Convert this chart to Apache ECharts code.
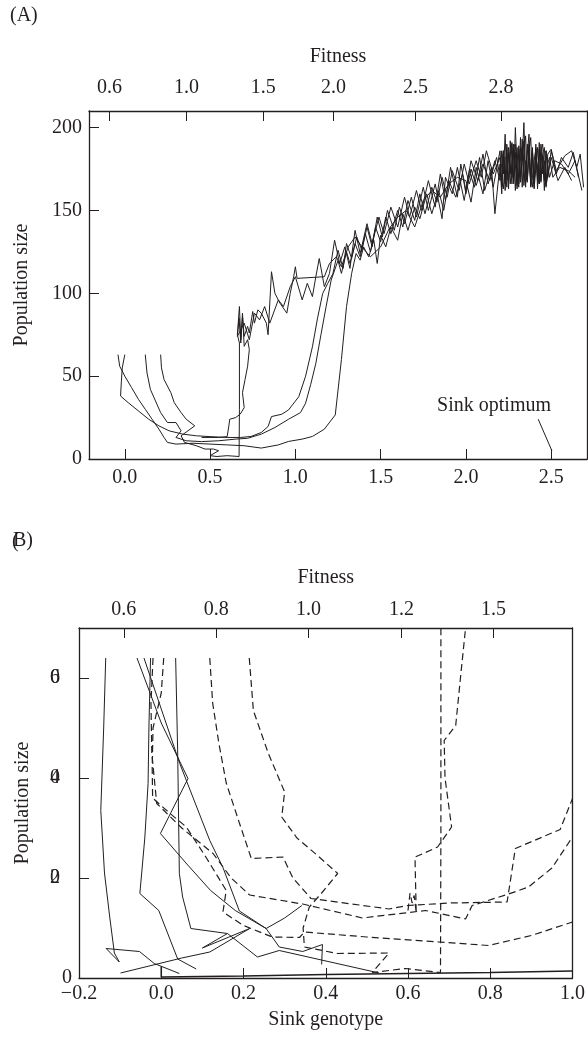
<!DOCTYPE html>
<html><head><meta charset="utf-8">
<script src="https://cdn.jsdelivr.net/npm/echarts@6/dist/echarts.min.js"></script>
<style>html,body{margin:0;padding:0;background:#fff}#c{width:588px;height:1042px}</style>
</head><body><div id="c"></div>
<script>
// ---------- Panel A data: [sink genotype, population size] ----------
const traceA1 = [[-0.04,63],[-0.03,56],[0.0,50],[0.04,43],[0.08,36],[0.12,30],[0.16,24],[0.2,18],[0.23,13],[0.25,10],[0.3,9],[0.4,9.5],[0.5,9],[0.6,8.5],[0.7,8],[0.8,6.6],[0.9,8.5],[0.96,10.6],[1.04,12],[1.1,13.6],[1.17,18],[1.234,26.6],[1.27,60],[1.3,92],[1.33,112],[1.356,124],[1.38,120],[1.4,128],[1.43,122],[1.46,132],[1.48,118],[1.5,135],[1.53,128],[1.56,140],[1.6,132],[1.63,148],[1.66,138],[1.7,152],[1.73,145],[1.77,160],[1.8,148],[1.84,162],[1.87,150],[1.9,168],[1.94,158],[1.98,172],[2.0,160],[2.03,175],[2.06,165],[2.1,178],[2.14,168],[2.18,182],[2.2,170],[2.22,186],[2.24,164],[2.25,188],[2.27,166],[2.28,190],[2.3,165],[2.31,189],[2.32,167],[2.34,192],[2.35,164],[2.36,190],[2.38,168],[2.39,186],[2.4,163],[2.42,188],[2.43,166],[2.44,184],[2.46,168],[2.47,186],[2.49,170],[2.52,180],[2.56,178],[2.6,172],[2.64,180],[2.68,162]];
const traceA2 = [[0.0,63],[-0.015,55],[-0.02,47],[-0.025,38],[0.02,34],[0.08,29],[0.14,24],[0.2,20],[0.26,17],[0.34,15],[0.42,14],[0.5,13.5],[0.6,13],[0.68,13],[0.74,13.6],[0.8,16],[0.84,19.6],[0.86,25.6],[0.92,27],[0.96,29.6],[1.02,37.6],[1.06,50],[1.1,67.7],[1.13,85],[1.16,99.8],[1.19,106],[1.22,111.8],[1.25,126],[1.28,115],[1.3,130],[1.33,121],[1.36,134],[1.39,126],[1.42,140],[1.45,128],[1.48,146],[1.51,134],[1.54,150],[1.58,138],[1.61,152],[1.64,142],[1.68,158],[1.71,146],[1.75,164],[1.78,150],[1.82,166],[1.86,145],[1.88,170],[1.92,160],[1.95,176],[1.99,156],[2.02,174],[2.05,164],[2.08,182],[2.11,162],[2.15,176],[2.17,148],[2.2,178],[2.21,160],[2.22,184],[2.23,166],[2.24,190],[2.25,163],[2.26,192],[2.27,170],[2.28,186],[2.29,162],[2.3,188],[2.31,166],[2.32,194],[2.33,164],[2.34,186],[2.35,195],[2.36,168],[2.37,190],[2.38,164],[2.39,188],[2.4,166],[2.41,190],[2.42,163],[2.43,187],[2.44,168],[2.45,183],[2.46,162],[2.47,186],[2.48,170],[2.5,186],[2.53,172],[2.56,182],[2.6,176],[2.63,185],[2.66,170]];
const traceA3 = [[0.12,63],[0.13,52],[0.15,42],[0.18,35],[0.21,28],[0.25,22],[0.3,22],[0.33,17],[0.3,13],[0.36,11],[0.45,10.5],[0.55,11],[0.65,12],[0.72,12.5],[0.8,15],[0.88,19],[0.96,24],[1.03,28],[1.06,33.7],[1.09,45],[1.12,57.7],[1.15,75],[1.18,91.8],[1.21,108],[1.25,119.8],[1.27,112],[1.3,125],[1.32,118],[1.35,130],[1.38,122],[1.41,136],[1.44,125],[1.47,140],[1.5,131],[1.53,146],[1.56,136],[1.6,150],[1.63,140],[1.66,156],[1.7,144],[1.73,160],[1.76,148],[1.8,164],[1.83,155],[1.86,170],[1.89,158],[1.92,174],[1.96,162],[1.99,178],[2.02,166],[2.06,180],[2.09,170],[2.12,186],[2.16,172],[2.2,182],[2.21,164],[2.22,186],[2.23,162],[2.24,188],[2.25,167],[2.26,184],[2.27,191],[2.28,168],[2.29,185],[2.3,163],[2.31,187],[2.32,170],[2.33,193],[2.34,165],[2.35,180],[2.36,167],[2.37,189],[2.38,165],[2.39,186],[2.4,164],[2.41,188],[2.42,168],[2.43,191],[2.44,167],[2.45,184],[2.46,188],[2.47,165],[2.48,166],[2.5,182],[2.54,168],[2.58,176],[2.62,168]];
const traceA4 = [[0.21,63],[0.215,55],[0.23,48],[0.27,40],[0.29,34],[0.33,28],[0.36,24],[0.41,20],[0.37,17],[0.33,14],[0.35,10],[0.42,8],[0.47,6],[0.52,6],[0.55,5],[0.5,2],[0.54,1.5],[0.6,2],[0.67,1.5],[0.672,30],[0.672,70],[0.66,75],[0.672,92],[0.68,72],[0.69,86],[0.7,74],[0.72,80],[0.73,76],[0.75,89],[0.76,82],[0.78,90],[0.8,88],[0.83,82],[0.84,75],[0.86,113],[0.88,100],[0.91,94],[0.95,88],[0.97,100],[0.99,110],[1.0,116],[1.01,109],[1.17,110],[1.2,118],[1.24,122],[1.27,116],[1.31,128],[1.35,134],[1.39,128],[1.44,122],[1.5,128],[1.55,139],[1.6,146],[1.65,150],[1.7,140],[1.75,156],[1.8,162],[1.85,158],[1.9,166],[1.95,170],[2.0,168],[2.03,155],[2.06,176],[2.1,160],[2.13,180],[2.16,164],[2.2,186],[2.21,168],[2.22,163],[2.23,182],[2.25,184],[2.26,166],[2.27,165],[2.28,188],[2.29,190],[2.3,170],[2.31,164],[2.32,182],[2.33,188],[2.34,172],[2.35,166],[2.36,184],[2.37,196],[2.38,170],[2.39,164],[2.4,180],[2.41,187],[2.42,170],[2.43,166],[2.44,185],[2.45,190],[2.46,172],[2.47,164],[2.48,178],[2.49,182],[2.51,170],[2.55,176],[2.6,174],[2.64,170]];
const traceA5 = [[0.45,13],[0.55,13],[0.6,13.5],[0.61,20],[0.615,24],[0.65,25],[0.676,27],[0.7,31],[0.69,40],[0.705,48],[0.72,56],[0.73,66],[0.72,72],[0.7,68],[0.69,88],[0.68,70],[0.67,85],[0.66,74],[0.7,82],[0.73,72],[0.76,88],[0.79,84],[0.82,92],[0.85,82],[0.9,96],[0.93,92],[0.97,104],[1.0,110],[1.04,96],[1.07,106],[1.1,98],[1.12,110],[1.14,121],[1.17,104],[1.2,112],[1.23,132],[1.26,118],[1.29,128],[1.32,115],[1.35,138],[1.38,124],[1.42,142],[1.45,130],[1.49,146],[1.52,136],[1.56,152],[1.6,140],[1.64,158],[1.67,146],[1.71,162],[1.74,150],[1.78,168],[1.82,152],[1.85,172],[1.88,156],[1.91,176],[1.95,158],[1.97,178],[2.0,162],[2.03,180],[2.07,168],[2.1,184],[2.13,166],[2.17,180],[2.2,168],[2.21,186],[2.22,172],[2.23,196],[2.24,168],[2.25,185],[2.26,172],[2.27,190],[2.28,166],[2.29,200],[2.3,175],[2.31,170],[2.32,188],[2.33,180],[2.34,203],[2.35,172],[2.36,168],[2.37,186],[2.38,194],[2.39,170],[2.4,166],[2.41,182],[2.42,176],[2.43,168],[2.44,190],[2.45,172],[2.46,180],[2.47,166],[2.48,184],[2.5,187],[2.53,174],[2.58,183],[2.62,186],[2.65,176],[2.67,184],[2.69,164]];
const sinkOptimumPointer = [[2.424,24],[2.504,5]];
const sinkOptimumLabelAt = [2.165,32];

// ---------- Panel B data ----------
const solidB1 = [[-0.135,64],[-0.14,50],[-0.147,33.5],[-0.138,21],[-0.125,12],[-0.114,5],[-0.102,3.2],[-0.134,5.9],[-0.053,5.3],[-0.017,2.9],[0.044,0.9]];
const solidB2 = [[-0.059,64],[0.0,51],[0.065,39.9],[-0.002,28.9],[0.06,23],[0.12,17.5],[0.18,13.5],[0.255,9.9],[0.3,12],[0.342,14.5]];
const solidB3 = [[-0.042,64],[0.045,42.9],[0.118,27.5],[0.15,22.1],[0.19,13.4],[0.255,9.9],[0.287,6.2],[0.344,5.3],[0.392,6.7],[0.39,2.7]];
const solidB4 = [[-0.026,64],[-0.03,50],[-0.032,38.9],[-0.04,28],[-0.052,16.9],[-0.006,13.5],[0.02,8],[0.04,3.8],[0.085,1.8]];
const solidB5 = [[0.035,64],[0.04,45],[0.044,20.9],[0.052,16.2],[0.072,9.9],[0.161,8.9],[0.234,4.2],[0.287,5.5],[0.53,1.0]];
const solidB6 = [[-0.099,1.0],[0.05,4],[0.118,5.2],[0.215,9.9],[0.1,6],[0.161,8.9]];
const solidB7 = [[0.0,2.3],[0.0,0.2],[0.2,0.4],[0.4,0.7],[0.6,0.9],[0.8,1.1],[1.0,1.4]];
const dashedB1 = [[0.006,64],[0.0,57],[-0.02,50],[-0.022,42],[-0.021,36],[0.02,33],[0.061,30.2],[0.11,24],[0.158,17.5],[0.15,13.2],[0.2,10.5],[0.27,8.2],[0.336,8.1],[0.348,9.2],[0.5,8.2],[0.675,7.2],[0.796,6.5],[0.9,8.5],[1.0,11.2]];
const dashedB2 = [[-0.02,64],[-0.025,55],[-0.023,45],[-0.011,34.9],[0.05,30],[0.126,24.9],[0.17,20],[0.215,16.6],[0.336,14.9],[0.344,14.8],[0.489,12.0],[0.643,13.5],[0.74,11.8],[0.756,14.5],[0.845,16.8],[0.893,18.2],[0.95,22],[1.0,28.2]];
const dashedB3 = [[0.118,64],[0.125,55],[0.14,47],[0.158,39],[0.19,31],[0.219,23.9],[0.296,24.2],[0.32,20],[0.364,15.9],[0.554,13.8],[0.6,14.5],[0.7,15],[0.841,15.2],[0.861,25.9],[0.97,29.7],[1.0,35.9]];
const dashedB4 = [[0.214,64],[0.224,53.5],[0.26,45],[0.3,37.2],[0.293,32.2],[0.33,28],[0.38,24.5],[0.429,20.9],[0.39,17],[0.36,14.2],[0.345,10],[0.348,6.2],[0.429,4.9],[0.554,5.0],[0.513,1.1],[0.594,1.9],[0.679,1.1],[0.68,30],[0.68,70]];
const dashedB5 = [[0.6,13.5],[0.605,17],[0.61,15],[0.615,16.5],[0.62,13],[0.617,24.2],[0.637,24.9],[0.672,26.2],[0.706,30.2],[0.69,40],[0.688,47.5],[0.716,50.5],[0.73,62],[0.74,70]];

// ---------- Tick labels ----------
const xTicksA = [0, 0.5, 1.0, 1.5, 2.0, 2.5];
const yTicksA = [0, 50, 100, 150, 200];
const fitnessLabelsA = ['0.6','1.0','1.5','2.0','2.5','2.8'];
const fitnessPosA = [-0.090, 0.362, 0.811, 1.224, 1.705, 2.206];
const xTicksB = [-0.2, 0, 0.2, 0.4, 0.6, 0.8, 1.0];
const yTicksB = [0, 20, 40, 60];
const fitnessLabelsB = ['0.6','0.8','1.0','1.2','1.5'];
const fitnessPosB = [-0.091, 0.134, 0.358, 0.584, 0.808];

const FONT = 'Liberation Serif';
const INK = '#231f20';
const FS = 20;
const txt = {color: INK, fontFamily: FONT, fontSize: FS};

function lookup(pos, labels){
  return function(v){ for (let i=0;i<pos.length;i++){ if (Math.abs(pos[i]-v)<1e-6) return labels[i]; } return ''; };
}
function fmtNum(v){ const s=(Math.round(v*10)/10).toFixed(1); return s.charAt(0)==='-' ? '\u2212'+s.slice(1) : s; }

const axLine = {show:true, onZero:false, lineStyle:{color:INK, width:1.3}};
const noLine = {show:false, onZero:false};
const tick = (vals)=>({show:true, inside:true, length:10, customValues:vals, lineStyle:{color:INK, width:1}});

const chart = echarts.init(document.getElementById('c'), null, {renderer:'canvas'});
function line(data, xi, yi, dashed, w){
  return {type:'line', data, xAxisIndex:xi, yAxisIndex:yi, symbol:'none', silent:true, animation:false,
    lineStyle:{color:INK, width:w||1, type: dashed ? [7,4] : 'solid'}};
}
const pointer = line(sinkOptimumPointer,0,0,false,1);
pointer.markPoint = {symbol:'circle', symbolSize:0, silent:true, itemStyle:{color:'none'},
  label:Object.assign({show:true, position:'inside', formatter:'Sink optimum'}, txt),
  data:[{coord:sinkOptimumLabelAt}]};

chart.setOption({
  animation:false,
  backgroundColor:'#fff',
  grid:[
    {left:89, right:1, top:111, height:348},
    {left:79, right:14, top:628, height:350}
  ],
  xAxis:[
    {gridIndex:0, type:'value', position:'bottom', min:-0.21, max:2.71, axisLine:axLine, axisTick:tick(xTicksA),
     axisLabel:Object.assign({customValues:xTicksA, margin:9, formatter:fmtNum}, txt), splitLine:{show:false}},
    {gridIndex:0, type:'value', position:'top', min:-0.21, max:2.71, axisLine:axLine, axisTick:tick(fitnessPosA),
     axisLabel:Object.assign({customValues:fitnessPosA, margin:13, formatter:lookup(fitnessPosA, fitnessLabelsA)}, txt),
     splitLine:{show:false}, name:'Fitness', nameLocation:'middle', nameGap:44, nameTextStyle:txt},
    {gridIndex:1, type:'value', position:'bottom', min:-0.2, max:1.0, axisLine:axLine, axisTick:tick(xTicksB.slice(1,-1)),
     axisLabel:Object.assign({customValues:xTicksB, margin:6, formatter:fmtNum}, txt), splitLine:{show:false},
     name:'Sink genotype', nameLocation:'middle', nameGap:32, nameTextStyle:txt},
    {gridIndex:1, type:'value', position:'top', min:-0.2, max:1.0, axisLine:axLine, axisTick:tick(fitnessPosB),
     axisLabel:Object.assign({customValues:fitnessPosB, margin:8, formatter:lookup(fitnessPosB, fitnessLabelsB)}, txt),
     splitLine:{show:false}, name:'Fitness', nameLocation:'middle', nameGap:40, nameTextStyle:txt}
  ],
  yAxis:[
    {gridIndex:0, type:'value', position:'left', min:0, max:210, axisLine:axLine, axisTick:tick(yTicksA.slice(1)),
     axisLabel:Object.assign({customValues:yTicksA, margin:7}, txt), splitLine:{show:false},
     name:'Population size', nameLocation:'middle', nameGap:57, nameTextStyle:txt},
    {gridIndex:0, type:'value', position:'right', min:0, max:210, axisLine:axLine, axisTick:{show:false}, axisLabel:{show:false}, splitLine:{show:false}},
    {gridIndex:1, type:'value', position:'left', min:0, max:70, axisLine:axLine, axisTick:tick(yTicksB.slice(1)),
     axisLabel:Object.assign({customValues:[0], margin:7}, txt), splitLine:{show:false},
     name:'Population size', nameLocation:'middle', nameGap:46, nameTextStyle:txt},
    {gridIndex:1, type:'value', position:'left', min:0, max:70, axisLine:noLine, axisTick:{show:false},
     axisLabel:Object.assign({customValues:yTicksB.slice(1), margin:19, formatter:(v)=>String(v).charAt(0)}, txt), splitLine:{show:false}},
    {gridIndex:1, type:'value', position:'left', min:0, max:70, axisLine:noLine, axisTick:{show:false},
     axisLabel:Object.assign({customValues:yTicksB.slice(1), margin:19, formatter:(v)=>String(v).charAt(1)}, txt), splitLine:{show:false}},
    {gridIndex:1, type:'value', position:'right', min:0, max:70, axisLine:axLine, axisTick:{show:false}, axisLabel:{show:false}, splitLine:{show:false}}
  ],
  graphic:[
    {type:'text', left:10, top:6, style:{text:'(A)', fill:INK, font:FS+'px "'+FONT+'"'}},
    {type:'text', left:12, top:532, style:{text:'(', fill:INK, font:FS+'px "'+FONT+'"'}},
    {type:'text', left:13, top:531, style:{text:'B)', fill:INK, font:FS+'px "'+FONT+'"'}}
  ],
  series:[
    line(traceA1,0,0,false,1), line(traceA2,0,0,false,1), line(traceA3,0,0,false,1),
    line(traceA4,0,0,false,1), line(traceA5,0,0,false,1),
    pointer,
    line(solidB1,2,2,false,1), line(solidB2,2,2,false,1), line(solidB3,2,2,false,1), line(solidB4,2,2,false,1),
    line(solidB5,2,2,false,1), line(solidB6,2,2,false,1), line(solidB7,2,2,false,1.6),
    line(dashedB1,2,2,true,1.2), line(dashedB2,2,2,true,1.2), line(dashedB3,2,2,true,1.2),
    line(dashedB4,2,2,true,1.2), line(dashedB5,2,2,true,1.2)
  ]
});
</script></body></html>
